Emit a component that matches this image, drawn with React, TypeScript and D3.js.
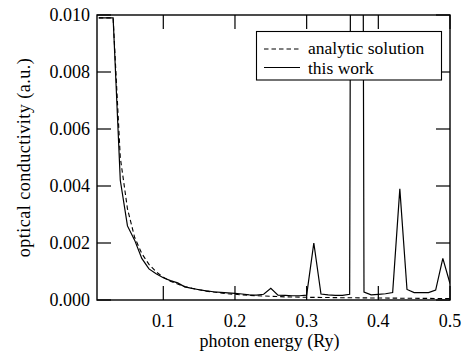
import React from "react";
import * as d3 from "d3";

// photon energy grid (Ry) for "this work"
const energy = [
  0.01, 0.02, 0.03, 0.04, 0.05, 0.06, 0.07, 0.08, 0.09, 0.1,
  0.11, 0.12, 0.13, 0.14, 0.15, 0.16, 0.17, 0.18, 0.19, 0.2,
  0.21, 0.22, 0.23, 0.24, 0.25, 0.26, 0.27, 0.28, 0.29, 0.3,
  0.31, 0.32, 0.33, 0.34, 0.35, 0.36, 0.37, 0.38, 0.39, 0.4,
  0.41, 0.42, 0.43, 0.44, 0.45, 0.46, 0.47, 0.48, 0.49, 0.5,
];
const thisWork = [
  0.0099, 0.0099, 0.0099, 0.0042, 0.0026, 0.0021, 0.00146, 0.00109, 0.00092, 0.00078,
  0.00068, 0.0006, 0.00046, 0.00041, 0.00036, 0.00032, 0.00029, 0.00027, 0.00025, 0.00023,
  0.00021, 0.00018, 0.00017, 0.0002, 0.00041, 0.00017, 0.00016, 0.00015, 0.00015, 0.00017,
  0.002, 0.00021, 0.00018, 0.00016, 0.00016, 0.0002, 0.1, 0.00028, 0.00018, 0.0002,
  0.00022, 0.00026, 0.0039, 0.00037, 0.00026, 0.00026, 0.00026, 0.00035, 0.00146, 0.00058,
];

// analytic solution
const energyAnalytic = [
  0.01, 0.02, 0.03, 0.04, 0.05, 0.06, 0.07, 0.08, 0.09, 0.1,
  0.11, 0.12, 0.13, 0.14, 0.15, 0.16, 0.17, 0.18, 0.19, 0.2,
  0.21, 0.22, 0.23, 0.24, 0.25, 0.26, 0.27, 0.28, 0.29, 0.3,
  0.35, 0.4, 0.45, 0.5,
];
const analytic = [
  0.0099, 0.0099, 0.0099, 0.005, 0.0032, 0.0022, 0.00163, 0.00125, 0.00099, 0.0008,
  0.00066, 0.00056, 0.00047, 0.00041, 0.00036, 0.00031, 0.00028, 0.00025, 0.00022, 0.0002,
  0.00018, 0.000165, 0.00015, 0.00014, 0.00013, 0.00012, 0.00011, 0.000105, 0.0001, 0.000095,
  0.00008, 0.00007, 0.00006, 0.00005,
];

const xTicks = [0.1, 0.2, 0.3, 0.4, 0.5];
const yTicks = [0, 0.002, 0.004, 0.006, 0.008, 0.01];

const W = 462;
const H = 352;
const margin = { top: 15, right: 12, bottom: 52, left: 97 };

// serif text, same as the original figure
function T(props: any) {
  const { style, ...rest } = props;
  return <text fontFamily="Times" {...rest} style={{ fontFamily: '"Times"', ...style }} />;
}

export default function App() {
  const x = d3.scaleLinear().domain([0.0075, 0.5]).range([margin.left, W - margin.right]);
  const y = d3.scaleLinear().domain([0, 0.01]).range([H - margin.bottom, margin.top]);
  const [x0, x1] = x.range();
  const [yb, yt] = y.range();
  const tick = 14;

  const line = d3
    .line<[number, number]>()
    .x((d) => x(d[0]))
    .y((d) => y(d[1]));

  const solidPts = energy.map((e, i) => [e, thisWork[i]] as [number, number]);
  const dashPts = energyAnalytic.map((e, i) => [e, analytic[i]] as [number, number]);

  const fmt = d3.format(".3f");

  return (
    <svg width={W} height={H} style={{ position: "absolute", left: 0, top: 0, background: "#fff" }}>
      <defs>
        <clipPath id="plot-clip">
          <rect x={x0} y={yt} width={x1 - x0} height={yb - yt} />
        </clipPath>
      </defs>

      {/* ticks on all four sides, pointing inward */}
      <g stroke="#000" strokeWidth={1.2}>
        {xTicks.map((t) => (
          <g key={"xt" + t}>
            <line x1={x(t)} x2={x(t)} y1={yb} y2={yb - tick} />
            <line x1={x(t)} x2={x(t)} y1={yt} y2={yt + tick} />
          </g>
        ))}
        {yTicks.map((t) => (
          <g key={"yt" + t}>
            <line x1={x0} x2={x0 + tick} y1={y(t)} y2={y(t)} />
            <line x1={x1} x2={x1 - tick} y1={y(t)} y2={y(t)} />
          </g>
        ))}
      </g>

      {/* data */}
      <g clipPath="url(#plot-clip)" fill="none" stroke="#000">
        <path d={line(dashPts) || ""} strokeWidth={1.1} strokeDasharray="4.5,3" />
        <path d={line(solidPts) || ""} strokeWidth={1.2} />
      </g>

      {/* frame */}
      <rect x={x0} y={yt} width={x1 - x0} height={yb - yt} fill="none" stroke="#000" strokeWidth={1.4} />

      {/* tick labels */}
      {xTicks.map((t) => (
        <T key={"xl" + t} x={x(t)} y={yb + 26.5} textAnchor="middle" fontSize={18}>
          {String(t)}
        </T>
      ))}
      {yTicks.map((t) => (
        <T key={"yl" + t} x={x0 - 7} y={y(t) + 6} textAnchor="end" fontSize={18}>
          {fmt(t)}
        </T>
      ))}

      {/* axis titles */}
      <T x={(x0 + x1) / 2 - 4} y={347} textAnchor="middle" fontSize={18}>
        photon energy (Ry)
      </T>
      <T
        transform={`translate(30, ${(yb + yt) / 2}) rotate(-90)`}
        textAnchor="middle"
        fontSize={18}
        letterSpacing={0.5}
      >
        optical conductivity (a.u.)
      </T>

      {/* legend */}
      <rect x={256.5} y={31.5} width={185} height={48.5} fill="#fff" stroke="#000" strokeWidth={1.1} />
      <line x1={264} x2={300} y1={49} y2={49} stroke="#000" strokeWidth={1.1} strokeDasharray="4.5,3" />
      <line x1={264} x2={300} y1={67.5} y2={67.5} stroke="#000" strokeWidth={1.2} />
      <T x={308} y={54} fontSize={17.5}>analytic solution</T>
      <T x={308} y={73.5} fontSize={17.5}>this work</T>
    </svg>
  );
}
